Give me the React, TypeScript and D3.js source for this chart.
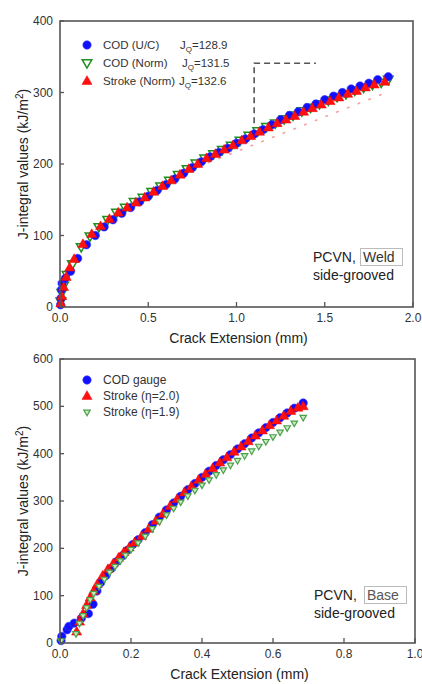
import React from "react";
import * as d3 from "d3";

// ---------- Top chart (Weld) ----------
const topBlueA = [0.003,0.005,0.008,0.012,0.03,0.06,0.1,0.15,0.2,0.25,0.3,0.35,0.4,0.45,0.5,0.55,0.6,0.65,0.7,0.75,0.8,0.85,0.9,0.95,1.0,1.05,1.1,1.15,1.2,1.25,1.3,1.35,1.4,1.45,1.5,1.55,1.6,1.65,1.7,1.75,1.8,1.86];
const topBlueJ = [3,12,24,33,40,50,68,87,100,112,122,131,139,147,155,163,171,179,187,195,203,210,216,222,229,235,242,248,255,262,268,273,279,284,290,295,300,305,309,313,318,322];

const topGreenA = [0.005,0.01,0.02,0.04,0.07,0.12,0.17,0.22,0.27,0.32,0.37,0.42,0.47,0.52,0.57,0.62,0.67,0.72,0.77,0.82,0.87,0.92,0.97,1.02,1.07,1.12,1.17,1.22,1.27,1.32,1.37,1.42,1.47,1.52,1.57,1.62,1.67,1.72,1.77,1.82,1.86];
const topGreenJ = [8,20,30,45,60,84,99,112,122,132,139,147,153,161,169,177,185,193,201,208,214,220,226,233,240,246,252,257,263,268,274,279,284,289,294,298,303,307,311,314,318];

const topRedA = [0.005,0.01,0.02,0.035,0.055,0.08,0.13,0.18,0.23,0.28,0.33,0.38,0.43,0.48,0.53,0.58,0.63,0.68,0.73,0.78,0.83,0.88,0.93,0.98,1.03,1.08,1.13,1.18,1.23,1.28,1.33,1.38,1.43,1.48,1.53,1.58,1.63,1.68,1.73,1.78,1.84];
const topRedJ = [5,15,28,42,55,67,88,102,113,123,132,139,146,153,161,169,177,185,193,200,208,214,220,226,233,239,245,251,257,262,267,273,278,283,288,293,298,302,307,311,315];

const topPinkA = [0.78, 1.85];
const topPinkJ = [196, 300];

const topDashA = [1.1, 1.1, 1.45];
const topDashJ = [257, 341, 341];

const topXTicks = [0, 0.5, 1.0, 1.5, 2.0];
const topYTicks = [0, 100, 200, 300, 400];
const topLegend = ["COD (U/C)", "COD (Norm)", "Stroke (Norm)"];
const topJQ = ["=128.9", "=131.5", "=132.6"];

// ---------- Bottom chart (Base) ----------
const botBlueA = [0.003,0.005,0.02,0.025,0.04,0.06,0.08,0.093,0.104,0.115,0.13,0.145,0.16,0.175,0.19,0.205,0.22,0.24,0.26,0.28,0.3,0.32,0.34,0.36,0.38,0.4,0.42,0.44,0.46,0.48,0.5,0.52,0.54,0.56,0.58,0.6,0.62,0.64,0.66,0.685];
const botBlueJ = [5,14,28,35,42,52,62,82,110,128,143,158,172,184,196,208,218,233,250,266,281,296,310,324,337,350,363,375,387,398,410,421,433,444,455,466,476,486,496,507];

const botRedA = [0.047,0.055,0.065,0.075,0.085,0.095,0.105,0.12,0.135,0.15,0.165,0.18,0.195,0.21,0.23,0.25,0.27,0.29,0.31,0.33,0.35,0.37,0.39,0.41,0.43,0.45,0.47,0.49,0.51,0.53,0.55,0.57,0.59,0.61,0.63,0.65,0.67,0.685];
const botRedJ = [24,45,62,80,96,110,124,142,156,168,180,192,202,212,226,241,258,273,289,304,318,331,344,357,369,381,392,404,415,426,438,449,460,470,480,490,497,500];

const botGreenA = [0.003,0.045,0.055,0.065,0.075,0.085,0.095,0.11,0.125,0.14,0.155,0.17,0.185,0.2,0.22,0.24,0.26,0.28,0.3,0.32,0.34,0.36,0.38,0.4,0.42,0.44,0.46,0.48,0.5,0.52,0.54,0.56,0.58,0.6,0.62,0.64,0.66,0.685];
const botGreenJ = [5,20,42,58,75,92,105,120,135,150,162,174,186,198,212,226,242,257,271,285,298,311,323,334,345,356,366,376,386,396,406,416,426,436,446,455,465,477];

const botXTicks = [0, 0.2, 0.4, 0.6, 0.8, 1.0];
const botYTicks = [0, 100, 200, 300, 400, 500, 600];
const botLegend = ["COD gauge", "Stroke (\u03b7=2.0)", "Stroke (\u03b7=1.9)"];

const FONT = "'Liberation Sans', Arial, sans-serif";
const AXIS = "#555";
const TXT = "#333";

const triUp = d3.symbol().type(d3.symbolTriangle);
const triDown = (size: number) => d3.symbol().type(d3.symbolTriangle).size(size)();

function Marker({ kind, x, y }: { kind: string; x: number; y: number }) {
  if (kind === "blue")
    return <circle cx={x} cy={y} r={4.2} fill="#1010ff" stroke="#3a3aff" strokeWidth={0.6} />;
  if (kind === "red")
    return <path d={triUp.size(44)()!} transform={`translate(${x},${y + 0.5})`} fill="#ff1010" stroke="#e00" strokeWidth={0.5} />;
  if (kind === "greenHollow")
    return <path d={triDown(40)!} transform={`translate(${x},${y - 0.5}) rotate(180)`} fill="#fff" fillOpacity={0.85} stroke="#1f8f1f" strokeWidth={1.5} />;
  return <path d={triDown(18)!} transform={`translate(${x},${y}) rotate(180)`} fill="#c8ecbe" stroke="#4aa04a" strokeWidth={1.2} />;
}

type ChartProps = {
  left: number; right: number; top: number; bottom: number;
  xMax: number; yMax: number; xTicks: number[]; yTicks: number[];
  series: { kind: string; a: number[]; j: number[] }[];
  xFmt: (v: number) => string;
};

function Chart(p: ChartProps) {
  const x = d3.scaleLinear().domain([0, p.xMax]).range([p.left, p.right]);
  const y = d3.scaleLinear().domain([0, p.yMax]).range([p.bottom, p.top]);
  const midY = (p.top + p.bottom) / 2;
  const midX = (p.left + p.right) / 2 + 2;
  return (
    <g>
      {p.series.map((s, si) => (
        <g key={si}>
          {s.a.map((a, i) => (
            <Marker key={i} kind={s.kind} x={x(a)} y={y(s.j[i])} />
          ))}
        </g>
      ))}
      <rect x={p.left} y={p.top} width={p.right - p.left} height={p.bottom - p.top} fill="none" stroke={AXIS} strokeWidth={1.6} />
      {p.xTicks.map((t) => (
        <g key={"x" + t}>
          <line x1={x(t)} x2={x(t)} y1={p.bottom} y2={p.bottom - 5} stroke={AXIS} strokeWidth={1.3} />
          <text x={x(t)} y={p.bottom + 15} textAnchor="middle" fontSize={12} fill={TXT} fontFamily={FONT}>{p.xFmt(t)}</text>
        </g>
      ))}
      {p.yTicks.map((t) => (
        <g key={"y" + t}>
          <line x1={p.left} x2={p.left + 4} y1={y(t)} y2={y(t)} stroke={AXIS} strokeWidth={1.3} />
          <text x={p.left - 7} y={y(t) + 4} textAnchor="end" fontSize={12} fill={TXT} fontFamily={FONT}>{t}</text>
        </g>
      ))}
      <text transform={`translate(28,${midY}) rotate(-90)`} textAnchor="middle" fontSize={14} fill="#222" fontFamily={FONT}>
        J-integral values (kJ/m<tspan dy={-5} fontSize={10}>2</tspan><tspan dy={5}>)</tspan>
      </text>
      <text x={midX} y={p.bottom + 36} textAnchor="middle" fontSize={14} fill="#222" fontFamily={FONT}>Crack Extension (mm)</text>
    </g>
  );
}

export default function App() {
  const tX = d3.scaleLinear().domain([0, 2]).range([60, 413]);
  const tY = d3.scaleLinear().domain([0, 400]).range([307, 21]);
  const dashPath = d3.line<number>().x((_, i) => tX(topDashA[i])).y((v) => tY(v))(topDashJ)!;
  const pinkPath = d3.line<number>().x((_, i) => tX(topPinkA[i])).y((v) => tY(v))(topPinkJ)!;
  const fmt1 = d3.format(".1f");

  return (
    <svg width={422} height={684} style={{ position: "absolute", left: 0, top: 0, background: "#fff" }}>
      <rect width={422} height={684} fill="#fff" />
      {/* Top chart */}
      <path d={pinkPath} fill="none" stroke="#f4a0a0" strokeWidth={1.6} strokeDasharray="1.5 10" strokeLinecap="round" />
      <path d={dashPath} fill="none" stroke="#555" strokeWidth={1.6} strokeDasharray="6 4" />
      <Chart left={60} right={413} top={21} bottom={307} xMax={2} yMax={400} xTicks={topXTicks} yTicks={topYTicks}
        series={[
          { kind: "greenHollow", a: topGreenA, j: topGreenJ },
          { kind: "blue", a: topBlueA, j: topBlueJ },
          { kind: "red", a: topRedA, j: topRedJ },
        ]}
        xFmt={fmt1} />
      {topLegend.map((name, i) => {
        const yy = 45 + i * 18;
        const kinds = ["blue", "greenHollow", "red"];
        const jx = [180, 182, 179][i];
        return (
          <g key={name}>
            <Marker kind={kinds[i]} x={87} y={yy} />
            <text x={103} y={yy + 4} fontSize={11.5} fill={TXT} fontFamily={FONT}>{name}</text>
            <text x={jx} y={yy + 4} fontSize={11.5} fill={TXT} fontFamily={FONT}>
              J<tspan dy={3} fontSize={8}>Q</tspan><tspan dy={-3}>{topJQ[i]}</tspan>
            </text>
          </g>
        );
      })}
      <text x={313} y={262} fontSize={14} fill="#222" fontFamily={FONT}>PCVN,</text>
      <rect x={360.5} y={248.5} width={42} height={17} fill="none" stroke="#bbb" strokeWidth={1} />
      <text x={363} y={262} fontSize={14} fill="#333" fontFamily={FONT}>Weld</text>
      <text x={313} y={280} fontSize={14} fill="#222" fontFamily={FONT}>side-grooved</text>

      {/* Bottom chart */}
      <Chart left={60} right={415} top={359} bottom={643} xMax={1} yMax={600} xTicks={botXTicks} yTicks={botYTicks}
        series={[
          { kind: "blue", a: botBlueA, j: botBlueJ },
          { kind: "red", a: botRedA, j: botRedJ },
          { kind: "greenSmall", a: botGreenA, j: botGreenJ },
        ]}
        xFmt={fmt1} />
      {botLegend.map((name, i) => {
        const yy = 380 + i * 16;
        const kinds = ["blue", "red", "greenSmall"];
        return (
          <g key={name}>
            <Marker kind={kinds[i]} x={87} y={yy} />
            <text x={103} y={yy + 4} fontSize={12} fill={TXT} fontFamily={FONT}>{name}</text>
          </g>
        );
      })}
      <text x={314} y={600} fontSize={14} fill="#222" fontFamily={FONT}>PCVN,</text>
      <rect x={364.5} y={586.5} width={42} height={17} fill="none" stroke="#bbb" strokeWidth={1} />
      <text x={367} y={600} fontSize={14} fill="#555" fontFamily={FONT}>Base</text>
      <text x={314} y={618} fontSize={14} fill="#222" fontFamily={FONT}>side-grooved</text>
    </svg>
  );
}
